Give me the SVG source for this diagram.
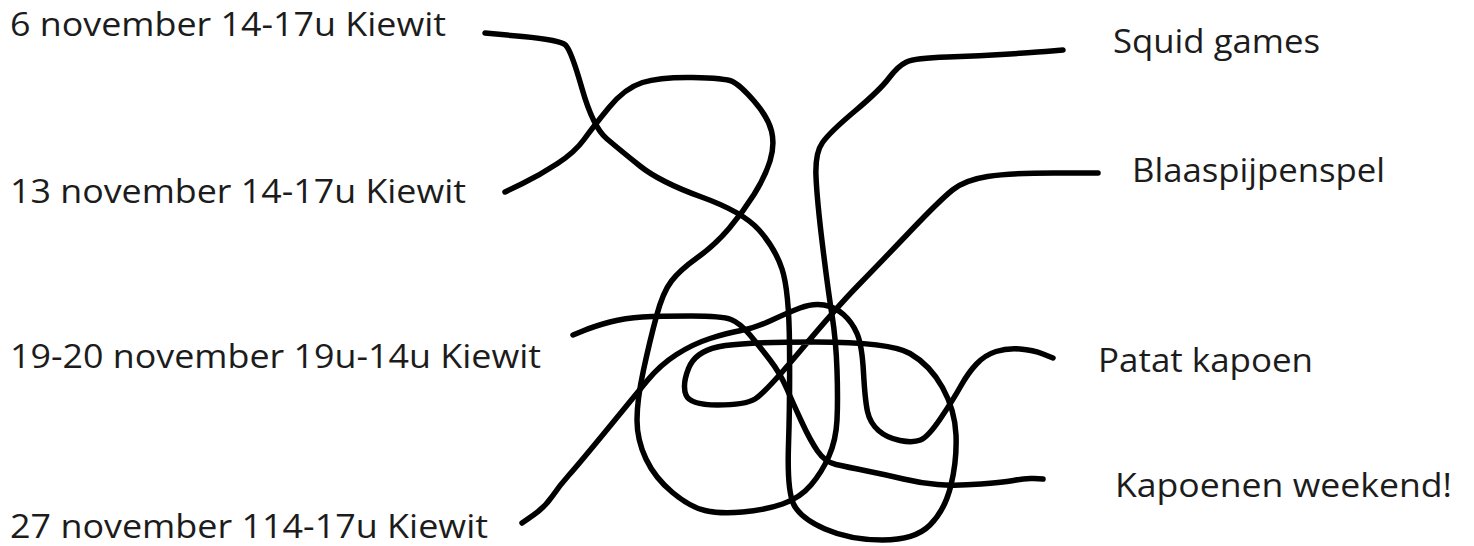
<svg xmlns="http://www.w3.org/2000/svg" width="1474" height="546" viewBox="0 0 1474 546">
<style>
.lbl{font-family:"Open Sans","Noto Sans","Liberation Sans",sans-serif;font-size:33px;fill:#1c1c1c;}
.ln{fill:none;stroke:#000;stroke-width:5.5;stroke-linecap:round;stroke-linejoin:round;}
</style>
<rect width="1474" height="546" fill="#fff"/>
<g id="left-labels">
<g id="n-6nov"><text class="lbl" x="10" y="36" textLength="436" lengthAdjust="spacingAndGlyphs">6 november 14-17u Kiewit</text></g>
<g id="n-13nov"><text class="lbl" x="10" y="203" textLength="456" lengthAdjust="spacingAndGlyphs">13 november 14-17u Kiewit</text></g>
<g id="n-19nov"><text class="lbl" x="10" y="368" textLength="531" lengthAdjust="spacingAndGlyphs">19-20 november 19u-14u Kiewit</text></g>
<g id="n-27nov"><text class="lbl" x="10" y="538" textLength="478" lengthAdjust="spacingAndGlyphs">27 november 114-17u Kiewit</text></g>
</g>
<g id="right-labels">
<g id="n-squid"><text class="lbl" x="1113" y="53" textLength="207" lengthAdjust="spacingAndGlyphs">Squid games</text></g>
<g id="n-blaas"><text class="lbl" x="1132" y="182" textLength="253" lengthAdjust="spacingAndGlyphs">Blaaspijpenspel</text></g>
<g id="n-patat"><text class="lbl" x="1098" y="372" textLength="215" lengthAdjust="spacingAndGlyphs">Patat kapoen</text></g>
<g id="n-weekend"><text class="lbl" x="1115" y="497" textLength="337" lengthAdjust="spacingAndGlyphs">Kapoenen weekend!</text></g>
</g>
<g id="connectors">
<path id="c-6nov-blaas" class="ln" d="M485,33 L522.5,36.5 Q560,40 565.5,45 Q571,50 582,88.5 Q593,127 606.5,138.5 Q620,150 640,166 Q660,182 701.5,197 Q743,212 759,230 Q775,248 782,269 Q789,290 789.5,345 Q790,400 788.5,445 Q787,490 793.5,504 Q800,518 825,529 Q850,540 882.5,540 Q915,540 930,525 Q945,510 951,485 Q957,460 956,435 Q955,410 942.5,387.5 Q930,365 910,353.5 Q890,342 815,342 Q740,342 717.5,347 Q695,352 688.5,368.5 Q682,385 686,395 Q690,405 717.5,405 Q745,405 755,399 Q765,393 801,350 Q837,307 858.5,285 Q880,263 910,231.5 Q940,200 952.5,190 Q965,180 987.5,176.5 Q1010,173 1054,173 L1098,173"/>
<path id="c-13nov-squid" class="ln" d="M505,192 L522.5,183.5 Q540,175 557.5,163.5 Q575,152 584,139.5 Q593,127 609,107.5 Q625,88 642.5,82.5 Q660,77 692.5,77.5 Q725,78 732.5,81.5 Q740,85 754,101 Q768,117 771.5,131 Q775,145 770,161 Q765,177 754,194.5 Q743,212 729,228.5 Q715,245 697.5,257.5 Q680,270 671.5,281 Q663,292 656.5,316 Q650,340 643.5,370 Q637,400 637,420 Q637,440 646,459 Q655,478 672.5,492.5 Q690,507 705,510.5 Q720,514 742.5,512 Q765,510 782.5,504 Q800,498 811,485 Q822,472 829,456 Q836,440 837,420 Q838,400 837,370 Q836,340 832,315 Q828,290 822.5,245 Q817,200 816,176.5 Q815,153 822.5,142.5 Q830,132 855,111 Q880,90 889,78 Q898,66 906.5,62 Q915,58 947.5,57 Q980,56 1010,54 Q1040,52 1051.5,51 L1063,50"/>
<path id="c-19nov-weekend" class="ln" d="M573,335 L584,330.5 Q595,326 610,322 Q625,318 642.5,317 Q660,316 691,316 Q722,316 731,319.5 Q740,323 750,335 Q760,347 770,360 Q780,373 786.5,388 Q793,403 801.5,421.5 Q810,440 817.5,451 Q825,462 836,464.5 Q847,467 867,471 Q887,475 903.5,479 Q920,483 937.5,484.5 Q955,486 981,484 Q1007,482 1016,480 Q1025,478 1034,478.5 L1043,479"/>
<path id="c-27nov-patat" class="ln" d="M522,523 L533.5,515 Q545,507 552.5,496 Q560,485 569,475 Q578,465 605.5,431.5 Q633,398 646.5,381.5 Q660,365 676.5,354.5 Q693,344 710,338.5 Q727,333 741,330.5 Q755,328 771,320.5 Q787,313 800,308 Q813,303 824,305 Q835,307 843.5,314.5 Q852,322 857,333.5 Q862,345 863.5,372.5 Q865,400 867.5,411.5 Q870,423 878.5,430.5 Q887,438 900,440.5 Q913,443 920.5,440 Q928,437 940.5,418.5 Q953,400 960.5,386.5 Q968,373 976.5,364 Q985,355 996,351.5 Q1007,348 1020,349 Q1033,350 1043,354 L1053,358"/>
</g>
</svg>
